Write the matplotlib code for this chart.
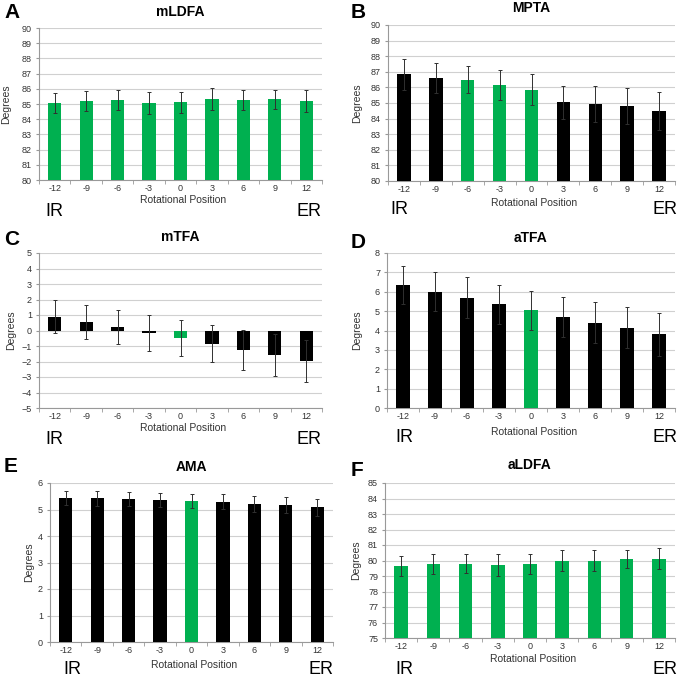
import matplotlib
matplotlib.use("Agg")
import matplotlib.pyplot as plt

plt.rcParams['font.family'] = ['Liberation Sans', 'DejaVu Sans']

W, H = 685, 677
GREEN = '#00B050'
BLACK = '#000000'

positions = ['-12', '-9', '-6', '-3', '0', '3', '6', '9', '12']

mldfa = [85.05, 85.2, 85.25, 85.05, 85.1, 85.3, 85.25, 85.3, 85.2]
mldfa_err = [0.65, 0.68, 0.65, 0.72, 0.72, 0.72, 0.65, 0.63, 0.7]
mldfa_green = [1, 1, 1, 1, 1, 1, 1, 1, 1]

mpta = [86.85, 86.6, 86.5, 86.15, 85.85, 85.05, 84.95, 84.8, 84.5]
mpta_err = [1.0, 0.95, 0.85, 0.95, 1.0, 1.05, 1.15, 1.15, 1.2]
mpta_green = [0, 0, 1, 1, 1, 0, 0, 0, 0]

mtfa = [0.9, 0.55, 0.2, -0.15, -0.5, -0.85, -1.25, -1.6, -1.95]
mtfa_err = [1.05, 1.1, 1.1, 1.15, 1.17, 1.2, 1.3, 1.35, 1.35]
mtfa_green = [0, 0, 0, 0, 1, 0, 0, 0, 0]

atfa = [6.35, 6.0, 5.7, 5.35, 5.05, 4.7, 4.4, 4.15, 3.8]
atfa_err = [1.0, 1.0, 1.05, 1.0, 1.0, 1.05, 1.05, 1.05, 1.1]
atfa_green = [0, 0, 0, 0, 1, 0, 0, 0, 0]

ama = [5.43, 5.42, 5.4, 5.37, 5.33, 5.3, 5.22, 5.17, 5.08]
ama_err = [0.27, 0.28, 0.27, 0.26, 0.27, 0.27, 0.3, 0.3, 0.32]
ama_green = [0, 0, 0, 0, 1, 0, 0, 0, 0]

aldfa = [79.65, 79.75, 79.8, 79.7, 79.75, 80.0, 80.0, 80.1, 80.1]
aldfa_err = [0.62, 0.65, 0.63, 0.7, 0.65, 0.68, 0.65, 0.58, 0.68]
aldfa_green = [1, 1, 1, 1, 1, 1, 1, 1, 1]

fig = plt.figure(figsize=(W / 100, H / 100), dpi=100)


def fx(x):
    return x / W


def fy(y):
    return 1 - y / H


def panel(box, letter, title, vals, errs, green, ylim, title_y, letter_xy,
          ylab_x, xlab_y, ir_x, er_x, irer_y):
    x0, x1, yt, yb = box
    ax = fig.add_axes([fx(x0), fy(yb), fx(x1 - x0), (yb - yt) / H])
    idx = list(range(len(vals)))
    colors = [GREEN if g else BLACK for g in green]
    ax.bar(idx, vals, width=0.42, color=colors, zorder=3)
    ax.errorbar(idx, vals, yerr=errs, fmt='none', ecolor='#303030',
                elinewidth=0.7, capsize=1.2, capthick=0.7, zorder=4)
    ax.set_xlim(-0.5, len(vals) - 0.5)
    ax.set_ylim(*ylim)
    ax.set_yticks(range(ylim[0], ylim[1] + 1))
    ax.set_xticks(idx)
    ax.set_xticklabels(positions)
    ax.set_xticks([i - 0.5 for i in range(len(vals) + 1)], minor=True)
    ax.tick_params(axis='x', which='major', length=0, labelsize=6.5,
                   labelcolor='#333333', pad=3)
    ax.tick_params(axis='x', which='minor', length=3, color='#999999')
    ax.tick_params(axis='y', length=2, color='#999999', labelsize=6.5,
                   labelcolor='#333333', pad=3)
    ax.grid(axis='y', color='#D0D0D0', linewidth=0.8, zorder=0)
    for s in ['top', 'right']:
        ax.spines[s].set_visible(False)
    for s in ['left', 'bottom']:
        ax.spines[s].set_color('#999999')
        ax.spines[s].set_linewidth(0.8)

    cx = (x0 + x1) / 2
    fig.text(fx(cx), fy(title_y), title, ha='center', va='center',
             fontsize=10, fontweight='bold')
    fig.text(fx(letter_xy[0]), fy(letter_xy[1]), letter,
             ha='left', va='center', fontsize=15, fontweight='bold')
    fig.text(fx(ylab_x), fy((yt + yb) / 2), 'Degrees', rotation=90,
             ha='center', va='center', fontsize=7.5, color='#333333')
    fig.text(fx(cx + 3), fy(xlab_y), 'Rotational Position', ha='center',
             va='center', fontsize=7.5, color='#333333')
    fig.text(fx(ir_x), fy(irer_y), 'IR', ha='left', va='center', fontsize=13)
    fig.text(fx(er_x), fy(irer_y), 'ER', ha='right', va='center', fontsize=13)
    return ax


panel((39, 322, 28, 180), 'A', 'mLDFA', mldfa, mldfa_err, mldfa_green,
      (80, 90), 12, (4, 13), 6, 200, 45, 322, 211)
panel((388, 675, 25, 181), 'B', 'MPTA', mpta, mpta_err, mpta_green,
      (80, 90), 8, (351, 13), 357, 203, 390, 677, 210)
panel((39, 322, 253, 408), 'C', 'mTFA', mtfa, mtfa_err, mtfa_green,
      (-5, 5), 237, (4, 240), 11, 428, 45, 322, 439)
panel((387, 675, 253, 408), 'D', 'aTFA', atfa, atfa_err, atfa_green,
      (0, 8), 238, (351, 242), 357, 432, 395, 677, 438)
panel((50, 333, 483, 642), 'E', 'AMA', ama, ama_err, ama_green,
      (0, 6), 467, (4, 467), 29, 665, 63, 333, 670)
panel((385, 675, 483, 638), 'F', 'aLDFA', aldfa, aldfa_err, aldfa_green,
      (75, 85), 465, (351, 470), 356, 659, 395, 677, 670)

fig.savefig('out.png', dpi=100)
